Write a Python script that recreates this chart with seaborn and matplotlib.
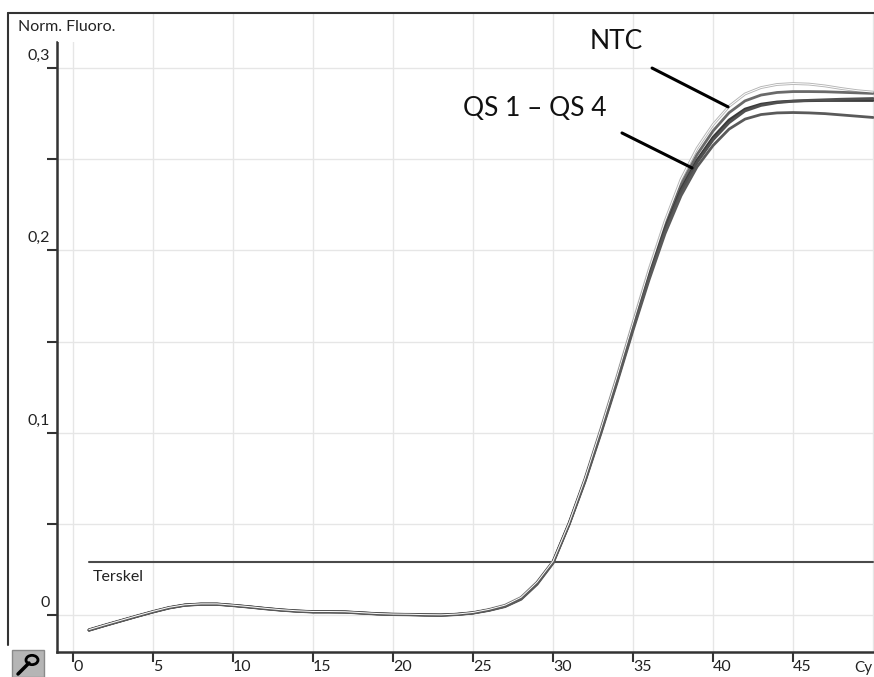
import matplotlib
matplotlib.use("Agg")
import matplotlib.pyplot as plt
import matplotlib.transforms as mtransforms
from matplotlib.patches import Rectangle, Circle
from matplotlib.lines import Line2D
import pandas as pd
import seaborn as sns

# ---------------- data ----------------
cycles = list(range(1, 51))

ntc = [-0.0080, -0.0054, -0.0029, -0.0004, 0.0020, 0.0042, 0.0056, 0.0061, 0.0061, 0.0054,
       0.0046, 0.0037, 0.0029, 0.0023, 0.0019, 0.0019, 0.0018, 0.0013, 0.0008, 0.0005,
       0.0004, 0.0002, 0.0001, 0.0005, 0.0014, 0.0031, 0.0054, 0.0097, 0.0180, 0.0295,
       0.0505, 0.0750, 0.1025, 0.1310, 0.1605, 0.1895, 0.2160, 0.2390, 0.2560, 0.2690,
       0.2790, 0.2858, 0.2893, 0.2910, 0.2915, 0.2912, 0.2902, 0.2888, 0.2876, 0.2868]
qs1 = [-0.0082, -0.0056, -0.0031, -0.0006, 0.0018, 0.0040, 0.0055, 0.0060, 0.0060, 0.0053,
       0.0045, 0.0036, 0.0028, 0.0022, 0.0018, 0.0018, 0.0017, 0.0012, 0.0007, 0.0004,
       0.0003, 0.0001, 0.0000, 0.0004, 0.0012, 0.0029, 0.0052, 0.0094, 0.0178, 0.0292,
       0.0502, 0.0745, 0.1018, 0.1300, 0.1592, 0.1878, 0.2140, 0.2360, 0.2525, 0.2655,
       0.2755, 0.2820, 0.2852, 0.2866, 0.2871, 0.2871, 0.2870, 0.2867, 0.2864, 0.2861]
qs2 = [-0.0083, -0.0057, -0.0032, -0.0007, 0.0017, 0.0039, 0.0054, 0.0059, 0.0059, 0.0052,
       0.0044, 0.0035, 0.0027, 0.0021, 0.0017, 0.0017, 0.0016, 0.0011, 0.0006, 0.0003,
       0.0002, 0.0000, -0.0001, 0.0003, 0.0011, 0.0027, 0.0049, 0.0091, 0.0175, 0.0290,
       0.0500, 0.0740, 0.1010, 0.1290, 0.1580, 0.1860, 0.2120, 0.2335, 0.2495, 0.2620,
       0.2715, 0.2775, 0.2802, 0.2814, 0.2819, 0.2821, 0.2822, 0.2822, 0.2822, 0.2822]
qs3 = [-0.0082, -0.0056, -0.0031, -0.0006, 0.0018, 0.0040, 0.0055, 0.0060, 0.0060, 0.0053,
       0.0045, 0.0036, 0.0028, 0.0022, 0.0018, 0.0018, 0.0017, 0.0012, 0.0007, 0.0004,
       0.0003, 0.0001, 0.0000, 0.0004, 0.0012, 0.0027, 0.0048, 0.0089, 0.0172, 0.0288,
       0.0498, 0.0737, 0.1005, 0.1284, 0.1573, 0.1852, 0.2110, 0.2322, 0.2482, 0.2606,
       0.2700, 0.2765, 0.2795, 0.2810, 0.2818, 0.2823, 0.2826, 0.2829, 0.2831, 0.2833]
qs4 = [-0.0084, -0.0058, -0.0033, -0.0008, 0.0016, 0.0038, 0.0053, 0.0058, 0.0058, 0.0051,
       0.0043, 0.0034, 0.0026, 0.0020, 0.0016, 0.0016, 0.0015, 0.0010, 0.0005, 0.0002,
       0.0001, -0.0001, -0.0002, 0.0002, 0.0010, 0.0025, 0.0046, 0.0086, 0.0168, 0.0284,
       0.0495, 0.0732, 0.0998, 0.1275, 0.1562, 0.1838, 0.2092, 0.2300, 0.2458, 0.2575,
       0.2665, 0.2720, 0.2745, 0.2754, 0.2756, 0.2754, 0.2750, 0.2743, 0.2736, 0.2729]

threshold = 0.029
threshold_range = [1, 50]
x_ticks = [0, 5, 10, 15, 20, 25, 30, 35, 40, 45]
y_ticks = [0.0, 0.05, 0.10, 0.15, 0.20, 0.25, 0.30]
y_labels = {0.0: "0", 0.10: "0,1", 0.20: "0,2", 0.30: "0,3"}

series = {"NTC": ntc, "QS 1": qs1, "QS 2": qs2, "QS 3": qs3, "QS 4": qs4}
colors = {"NTC": "#b4b4b4", "QS 1": "#6a6a6a", "QS 2": "#3a3a3a", "QS 3": "#505050", "QS 4": "#5a5a5a"}

df = pd.concat([pd.DataFrame({"Cycle": cycles, "Norm": v, "Sample": k}) for k, v in series.items()],
               ignore_index=True)

# ---------------- style ----------------
sns.set_style("white")
plt.rcParams["font.family"] = ["Lato", "DejaVu Sans"]

W, H = 874, 677
fig = plt.figure(figsize=(W / 100, H / 100), dpi=100)
ax = fig.add_axes([57 / W, 25 / H, 817 / W, 639 / H])

ax.set_xlim(-1.0, 50.06)
ax.set_ylim(-0.0203, 0.3302)

# grid
for xv in x_ticks + [50]:
    ax.axvline(xv, color="#e6e6e6", lw=1.0, zorder=0)
for yv in y_ticks:
    ax.axhline(yv, color="#e6e6e6", lw=1.0, zorder=0)

# threshold
ax.plot(threshold_range, [threshold, threshold], color="#4a4a4a", lw=1.5, zorder=2)
ax.text(1.25, 0.0208, "Terskel", fontsize=11.5, color="#222222", ha="left", va="center")

# curves
sns.lineplot(data=df, x="Cycle", y="Norm", hue="Sample", palette=colors,
             linewidth=2.0, legend=False, ax=ax, zorder=3)
sns.lineplot(data=df[df["Sample"] == "NTC"], x="Cycle", y="Norm", color="white",
             linewidth=0.7, legend=False, ax=ax, zorder=4)

# annotations
ax.plot([36.19, 40.94], [0.3000, 0.2787], color="black", lw=2.2, zorder=5)
ax.plot([34.31, 38.69], [0.2644, 0.2452], color="black", lw=2.2, zorder=5)
ax.text(33.94, 0.3143, "NTC", fontsize=19, ha="center", va="center", color="#111111")
ax.text(28.84, 0.2780, "QS 1 \u2013 QS 4", fontsize=19, ha="center", va="center", color="#111111")

# axes decorations
ax.set_xlabel("")
ax.set_ylabel("")
for s in ["top", "right"]:
    ax.spines[s].set_visible(False)
for s in ["left", "bottom"]:
    ax.spines[s].set_color("#333333")
    ax.spines[s].set_linewidth(1.8)
ax.spines["left"].set_bounds(-0.0203, 0.3143)

ax.set_xticks(x_ticks)
ax.set_xticklabels([str(t) for t in x_ticks], ha="left", fontsize=11.5, color="#222222")
offset = mtransforms.ScaledTranslation(2 / 100, 0, fig.dpi_scale_trans)
for lab in ax.get_xticklabels():
    lab.set_transform(lab.get_transform() + offset)
ax.tick_params(axis="x", bottom=True, direction="out", length=7, width=1.5,
               color="#333333", pad=-1)

ax.set_yticks(y_ticks)
ax.set_yticklabels([])
ax.tick_params(axis="y", left=True, direction="out", length=7, width=1.5, color="#333333")
ytrans = mtransforms.blended_transform_factory(ax.transAxes, ax.transData) + \
    mtransforms.ScaledTranslation(-7 / 100, 12 / 100, fig.dpi_scale_trans)
for yv, lab in y_labels.items():
    ax.text(0, yv, lab, transform=ytrans, ha="right", va="center", fontsize=11.5,
            color="#222222", clip_on=False)

ax.text(48.85, -0.0203, "Cy", transform=ax.transData +
        mtransforms.ScaledTranslation(0, -9 / 100, fig.dpi_scale_trans),
        ha="left", va="top", fontsize=11, color="#222222", clip_on=False)

# outer frame and label
fig.add_artist(Line2D([8 / W, 1.0], [1 - 13 / H, 1 - 13 / H], color="#333333", lw=1.5))
fig.add_artist(Line2D([8 / W, 8 / W], [1 - 13 / H, 1 - 645 / H], color="#333333", lw=1.5))
fig.add_artist(Rectangle((58 / W, 1 - 42 / H), 64 / W, 28 / H, facecolor="white",
                         edgecolor="none", zorder=1))
fig.text(18 / W, 1 - 27 / H, "Norm. Fluoro.", fontsize=11.5, ha="left", va="center",
         color="#222222", zorder=2)

# small tool button in the lower-left corner
fig.add_artist(Rectangle((12 / W, 0), 32 / W, 27 / H, facecolor="#b5b5b5",
                         edgecolor="#8a8a8a", lw=1, zorder=1))
fig.add_artist(Line2D([18 / W, 29 / W], [3 / H, 14 / H], color="black", lw=2.5, zorder=2))
fig.add_artist(Circle((32 / W, 17 / H), 6 / W, facecolor="none", edgecolor="black",
                      lw=2, zorder=2))

fig.savefig("out.png", dpi=100)
